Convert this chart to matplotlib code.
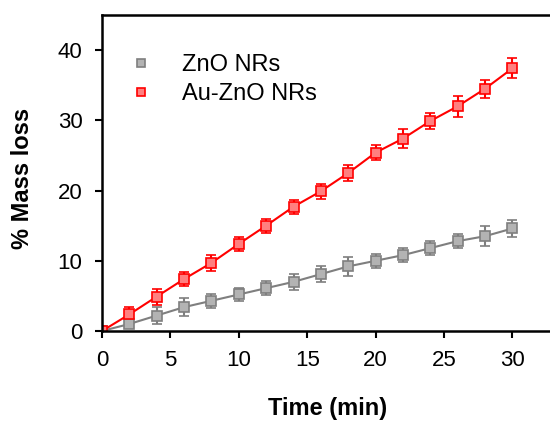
import numpy as np
import matplotlib
matplotlib.use('Agg')
import matplotlib.pyplot as plt

plt.rcParams['font.family'] = ['Liberation Sans', 'DejaVu Sans']

# mass loss over time, ZnO vs Au-ZnO nanorods
time_min = [0, 2, 4, 6, 8, 10, 12, 14, 16, 18, 20, 22, 24, 26, 28, 30]
zno_loss = [0, 1.0, 2.2, 3.4, 4.3, 5.2, 6.1, 7.0, 8.1, 9.2, 10.0, 10.8, 11.8, 12.8, 13.5, 14.6]
zno_err = [0, 0.6, 1.2, 1.25, 1.0, 0.97, 1.0, 1.14, 1.19, 1.38, 1.0, 1.0, 0.97, 0.97, 1.45, 1.26]
auzno_loss = [0, 2.37, 4.9, 7.4, 9.7, 12.4, 15.0, 17.7, 19.9, 22.5, 25.4, 27.4, 29.9, 32.0, 34.5, 37.4]
auzno_err = [0, 1.1, 1.14, 0.95, 1.16, 1.0, 1.0, 1.0, 1.04, 1.09, 1.04, 1.33, 1.16, 1.52, 1.28, 1.42]

fig = plt.figure(figsize=(5.5, 4.21), dpi=100)
ax = fig.add_axes([102/550, 1 - 331/421, 1 - 102/550, (331 - 15)/421])

ax.errorbar(time_min, zno_loss, yerr=zno_err, color='#7f7f7f', lw=1.5,
            marker='s', ms=7.3, mfc='#b3b3b3', mec='#7f7f7f', mew=1.2,
            elinewidth=1.5, capsize=3.8, capthick=1.5, label='ZnO NRs')
ax.errorbar(time_min, auzno_loss, yerr=auzno_err, color='#ff0000', lw=1.5,
            marker='s', ms=7.3, mfc='#ff7f7f', mec='#ff0000', mew=1.2,
            elinewidth=1.5, capsize=3.8, capthick=1.5, label='Au-ZnO NRs')

ax.set_xlim(0, 32.75)
ax.set_ylim(0, 45)
ax.set_xticks([0, 5, 10, 15, 20, 25, 30])
ax.set_yticks([0, 10, 20, 30, 40])
ax.tick_params(direction='out', length=5, width=1.5, labelsize=16)
ax.tick_params(axis='x', pad=9)
ax.tick_params(axis='y', pad=9)
for s in ['left', 'top', 'bottom']:
    ax.spines[s].set_linewidth(1.8)
ax.spines['right'].set_visible(False)

fig.text(23/550, 1 - 178/421, '% Mass loss', rotation=90, ha='center', va='center',
         fontsize=17, fontweight='bold')
fig.text(328/550, 1 - 408/421, 'Time (min)', ha='center', va='center',
         fontsize=17, fontweight='bold')

h, l = ax.get_legend_handles_labels()
h = [x[0] for x in h]
leg = fig.legend(h, l, loc='upper left', bbox_to_anchor=(127/550, 1 - 54/421),
                 bbox_transform=fig.transFigure, frameon=False, borderpad=0,
                 borderaxespad=0, fontsize=17, handlelength=1.2, handletextpad=1.15,
                 labelspacing=0.3, markerscale=0.85)
for hl in leg.legend_handles:
    hl.set_linestyle('none')

fig.savefig('out.png', dpi=100)
